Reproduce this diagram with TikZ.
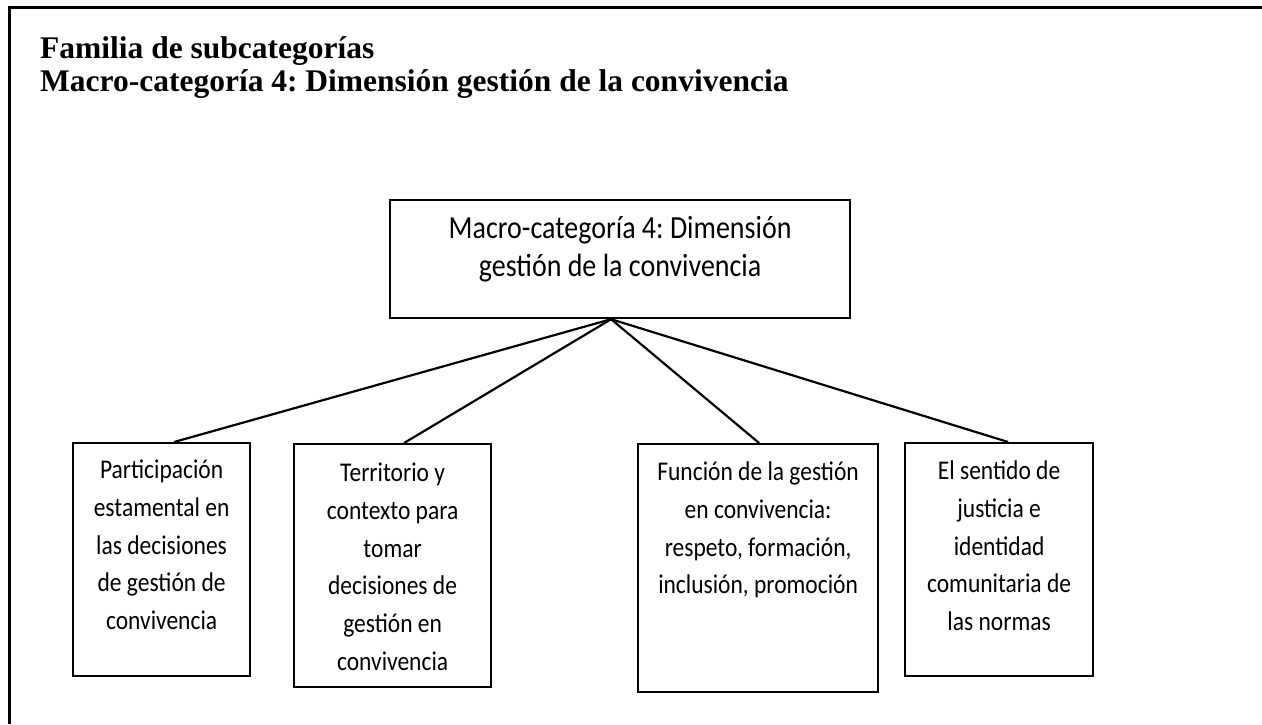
\documentclass[tikz,border=0pt]{standalone}
\usepackage{fontspec}
\setmainfont{Liberation Serif}
\newfontfamily\boxfont{Carlito}
\frenchspacing
\begin{document}
\begin{tikzpicture}[x=1pt,y=-1pt,
  box/.style={draw, line width=2.2pt, rectangle, inner sep=0pt, anchor=north west},
  lbl/.style={font=\boxfont\fontsize{23.5}{32.7}\selectfont, align=center, anchor=base, inner sep=0pt, text=black, yscale=1.15, transform shape},
  toplbl/.style={lbl, font=\boxfont\fontsize{28}{32.2}\selectfont},
  link/.style={line width=2.2pt},
  frame/.style={line width=2.6pt}]
\useasboundingbox (0,0) rectangle (1262,724);
\draw[frame] (9.5,724) -- (9.5,7.5) -- (1262,7.5);

% anchor=base refers to the last line of a multi-line node
\node[anchor=base west, align=left, inner sep=0pt,
      font=\bfseries\fontsize{31.5}{33}\selectfont] (title) at (40,91)
  {Familia de subcategorías\\Macro-categoría 4: Dimensión gestión de la convivencia};

\node[box, minimum width=460pt, minimum height=118pt] (top) at (389,199) {};
\node[toplbl] (toptxt) at ([yshift=-77pt]top.north) {Macro-categoría 4: Dimensión\\gestión de la convivencia};

\node[box, minimum width=177pt, minimum height=233pt] (b1) at (72,442) {};
\node[lbl] (t1) at ([yshift=-187.4pt]b1.north) {Participación\\estamental en\\las decisiones\\de gestión de\\convivencia};

\node[box, minimum width=197pt, minimum height=243pt] (b2) at (293,443) {};
\node[lbl] (t2) at ([yshift=-227pt]b2.north) {Territorio y\\contexto para\\tomar\\decisiones de\\gestión en\\convivencia};

\node[box, minimum width=240pt, minimum height=248pt] (b3) at (637,443) {};
\node[lbl] (t3) at ([yshift=-150.8pt]b3.north) {Función de la gestión\\en convivencia:\\respeto, formación,\\inclusión, promoción};

\node[box, minimum width=188pt, minimum height=233pt] (b4) at (904,442) {};
\node[lbl] (t4) at ([yshift=-188.4pt]b4.north) {El sentido de\\justicia e\\identidad\\comunitaria de\\las normas};

\draw[link] ([xshift=-9pt]top.south) -- ([xshift=12.5pt]b1.north);
\draw[link] ([xshift=-9pt]top.south) -- ([xshift=11.5pt]b2.north);
\draw[link] ([xshift=-9pt]top.south) -- ([xshift=1pt]b3.north);
\draw[link] ([xshift=-9pt]top.south) -- ([xshift=9pt]b4.north);
\end{tikzpicture}
\end{document}
